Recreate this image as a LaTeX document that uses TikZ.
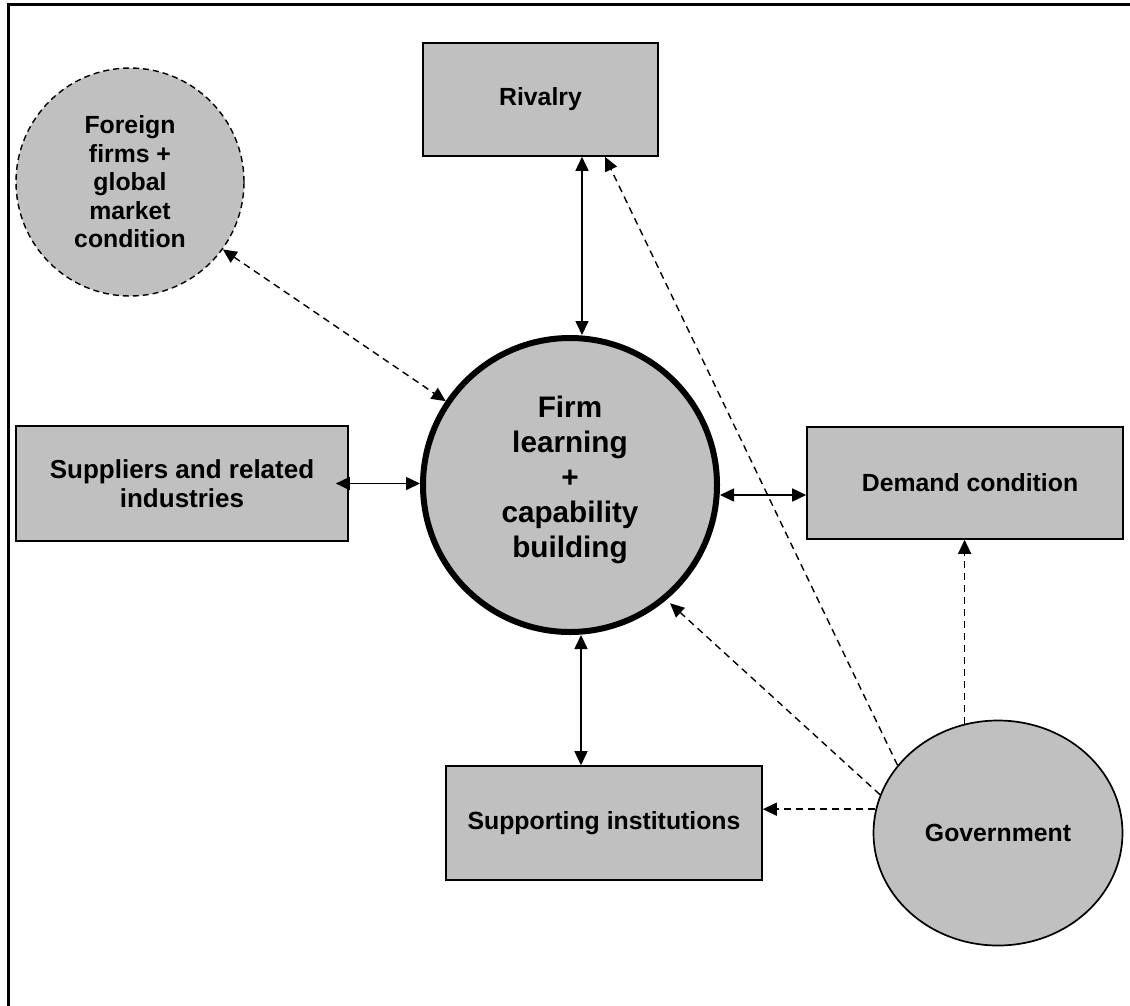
\documentclass[tikz,border=0pt]{standalone}
\usepackage{fontspec}
\setmainfont{Liberation Sans}
\usetikzlibrary{arrows.meta,shapes.geometric}
\definecolor{boxgray}{RGB}{192,192,192}
\newcommand\lblfont{\fontsize{24.8}{28.5}\selectfont\bfseries}
\newcommand\suplblfont{\fontsize{26}{28.5}\selectfont\bfseries}
\newcommand\corefont{\fontsize{29.7}{35}\selectfont\bfseries}
\begin{document}
\begin{tikzpicture}[x=1pt,y=-1pt,
  factor/.style={draw, line width=1.6pt, fill=boxgray, rectangle,
    inner sep=0pt, align=center, font=\lblfont},
  head/.style={-{Triangle[length=14pt,width=13pt]}},
  twohead/.style={{Triangle[length=14pt,width=13pt]}-{Triangle[length=14pt,width=13pt]}},
  link/.style={line width=1.6pt},
  infl/.style={line width=1.4pt, dash pattern=on 7pt off 5pt}]

\useasboundingbox (0,0) rectangle (1130,1005);

% frame
\draw[line width=3pt] (8,1006) -- (8,4) -- (1131,4);

% factor boxes
\node[factor, minimum width=235pt, minimum height=113pt] (riv) at (540.5,99.5) {Rivalry};
\node[factor, minimum width=332pt, minimum height=115pt, font=\suplblfont] (sup) at (182,483.5) {Suppliers and related\\industries};
\node[factor, minimum width=316pt, minimum height=112pt] (dem) at (965,483) {\hspace*{10pt}Demand condition};
\node[factor, minimum width=316pt, minimum height=114pt] (supi) at (604,823) {Supporting institutions};

% foreign firms
\node[circle, draw, line width=1.4pt, dash pattern=on 6pt off 4pt, fill=boxgray,
  minimum size=228pt, inner sep=0pt, align=center, font=\lblfont] (fore) at (130,182)
  {Foreign\\firms +\\global\\market\\condition};

% core circle
\node[circle, draw, line width=6pt, fill=boxgray, minimum size=294pt, inner sep=0pt,
  align=center, font=\corefont] (firm) at (570,485) {};
\node[align=center, font=\corefont, inner sep=0pt] (firmtext) at (570,480)
  {Firm\\learning\\+\\capability\\building};

% government
\node[ellipse, draw, line width=1.7pt, fill=boxgray, minimum width=249pt,
  minimum height=225pt, inner sep=0pt, font=\lblfont] (gov) at (998,833) {Government};

% two-way links with the core
\draw[link, twohead] ([xshift=-13pt]sup.east) -- (firm.west |- sup.east);
\draw[link, twohead] (firm.east |- dem.west) ++(0,12) coordinate (fe) -- (fe -| dem.west);
\draw[link, twohead] ([xshift=41.5pt]riv.south) -- ([xshift=41.5pt]riv.south |- firm.north);
\draw[link, twohead] ([xshift=-23pt]supi.north) -- ([xshift=-23pt]supi.north |- firm.south);
\draw[infl, twohead] (fore.-36) -- (firm.146);

% government influences
\draw[infl, head] (gov.146) -- ([xshift=64.5pt]riv.south);
\draw[infl, head, shorten >=5pt] (gov.162) -- (firm.-50);
\draw[infl, head] (gov.169) -- (gov.169 -| supi.east);
\draw[infl, head] (gov.107) -- (gov.107 |- dem.south);
\end{tikzpicture}
\end{document}
